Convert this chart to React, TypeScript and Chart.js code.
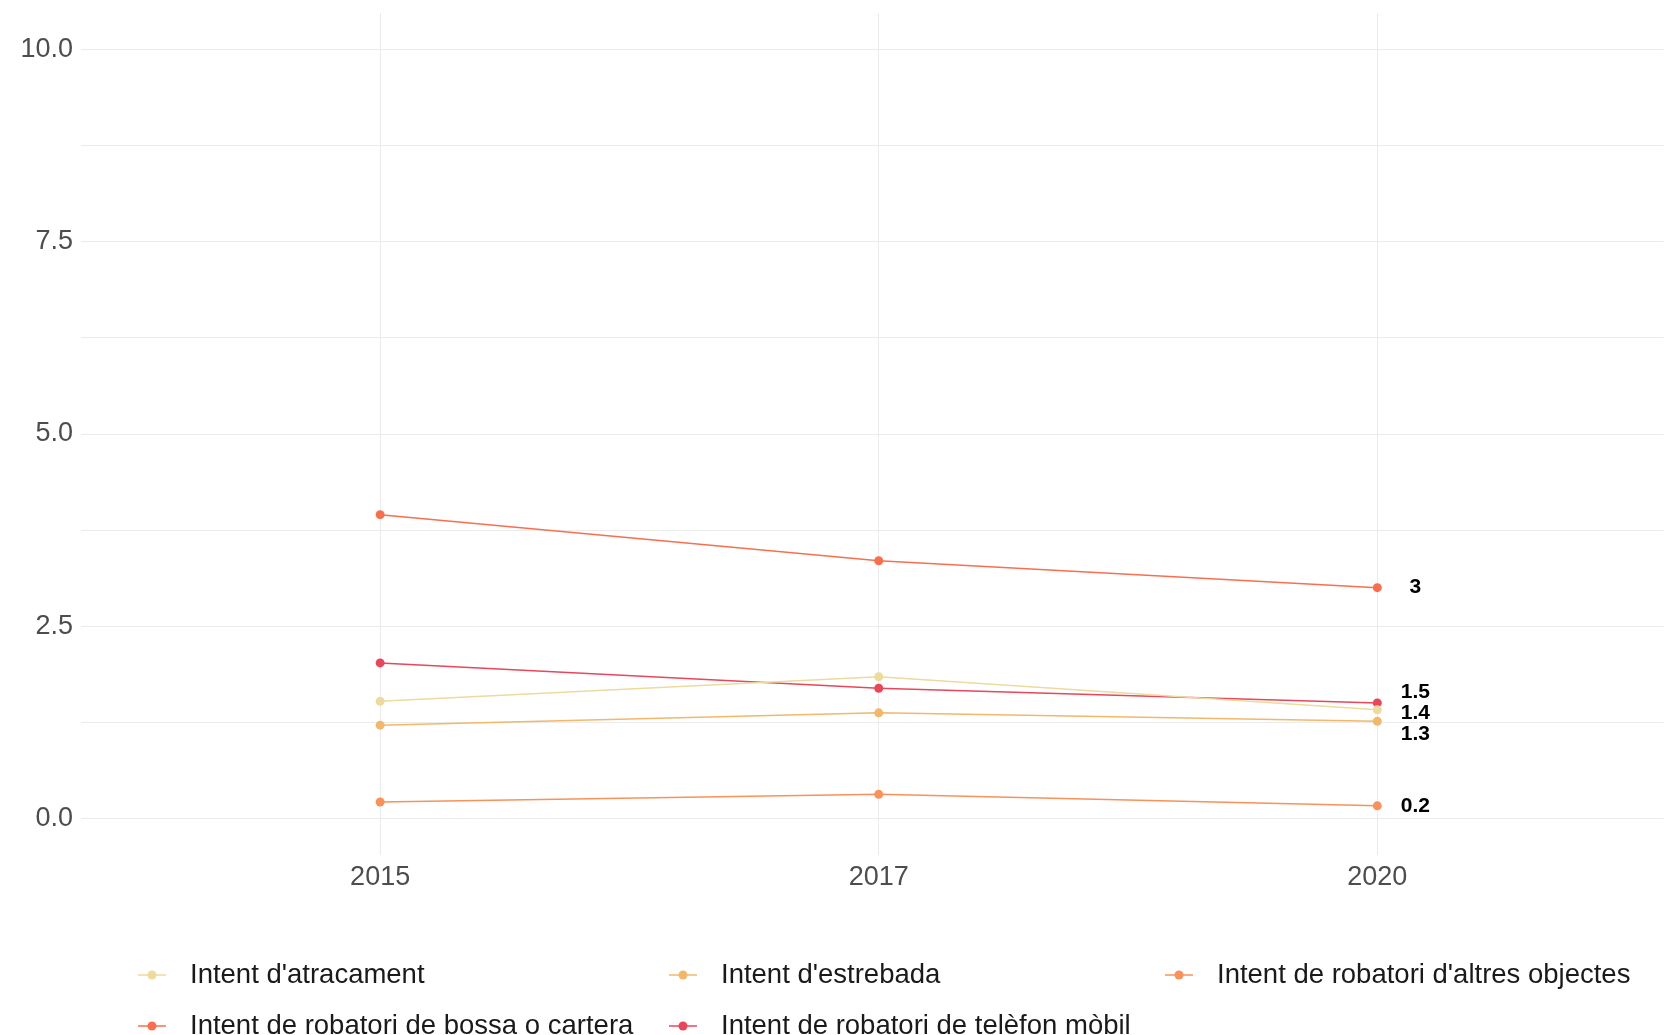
import React, { useEffect, useRef } from "react";
import { Chart, registerables } from "chart.js";

Chart.register(...registerables);

const categories = ["2015", "2017", "2020"];
const seriesNames = [
  "Intent d'atracament",
  "Intent d'estrebada",
  "Intent de robatori d'altres objectes",
  "Intent de robatori de bossa o cartera",
  "Intent de robatori de telèfon mòbil",
];
const atracament = [1.52, 1.84, 1.41];
const estrebada = [1.21, 1.37, 1.26];
const altresObjectes = [0.21, 0.31, 0.16];
const bossaCartera = [3.95, 3.35, 3.0];
const telefonMobil = [2.02, 1.69, 1.5];
const endLabels = ["1.4", "1.3", "0.2", "3", "1.5"];
const yGridValues = [0, 1.25, 2.5, 3.75, 5, 6.25, 7.5, 8.75, 10];
const yLabelValues = [0, 2.5, 5, 7.5, 10];

const seriesValues = [atracament, estrebada, altresObjectes, bossaCartera, telefonMobil];
const colors = ["#EDDA9E", "#F3B76C", "#F8925A", "#F86F4F", "#E7475B"];
const labelNudge = [3, 13, 0, 0, -11];

const FONT = "'Liberation Sans', Arial, sans-serif";

const endLabelPlugin = {
  id: "endLabels",
  afterDatasetsDraw(chart: any) {
    const ctx = chart.ctx;
    const xs = chart.scales.x;
    const ys = chart.scales.y;
    ctx.save();
    ctx.font = `bold 21px ${FONT}`;
    ctx.fillStyle = "#000000";
    ctx.textAlign = "center";
    ctx.textBaseline = "middle";
    seriesValues.forEach((vals, i) => {
      const last = vals.length - 1;
      const x = xs.getPixelForValue(last) + 38;
      const y = ys.getPixelForValue(vals[last]) + labelNudge[i];
      ctx.fillText(endLabels[i], x, y);
    });
    ctx.restore();
  },
};

const legendPlugin = {
  id: "gridLegend",
  afterDraw(chart: any) {
    const ctx = chart.ctx;
    ctx.save();
    ctx.font = `27.5px ${FONT}`;
    const nCols = 3;
    const colKeyX = [152, 683, 1179];
    const textOffset = 38;
    const rowY = [975, 1026];
    seriesNames.forEach((name, i) => {
      const col = i % nCols;
      const row = Math.floor(i / nCols);
      const x = colKeyX[col];
      const y = rowY[row];
      ctx.strokeStyle = colors[i];
      ctx.lineWidth = 1.5;
      ctx.beginPath();
      ctx.moveTo(x - 14, y);
      ctx.lineTo(x + 14, y);
      ctx.stroke();
      ctx.fillStyle = colors[i];
      ctx.beginPath();
      ctx.arc(x, y, 4.5, 0, Math.PI * 2);
      ctx.fill();
      ctx.fillStyle = "#1a1a1a";
      ctx.textAlign = "left";
      ctx.textBaseline = "middle";
      ctx.fillText(name, x + textOffset, y);
    });
    ctx.restore();
  },
};

export default function App() {
  const canvasRef = useRef<HTMLCanvasElement | null>(null);

  useEffect(() => {
    if (!canvasRef.current) return;
    const datasets = seriesNames.map((name, i) => ({
      label: name,
      data: seriesValues[i].map((v, j) => ({ x: j, y: v })),
      borderColor: colors[i],
      backgroundColor: colors[i],
      pointBackgroundColor: colors[i],
      pointBorderWidth: 0,
      pointRadius: 4.5,
      borderWidth: 1.5,
      tension: 0,
      fill: false,
    }));
    const chart = new Chart(canvasRef.current, {
      type: "line",
      data: { datasets },
      options: {
        animation: false,
        responsive: false,
        devicePixelRatio: 1,
        layout: { padding: { top: 13, left: 0, right: 0, bottom: 0 } },
        plugins: { legend: { display: false }, tooltip: { enabled: false } },
        scales: {
          x: {
            type: "linear",
            min: -0.6,
            max: 2.574,
            afterBuildTicks: (s: any) => {
              s.ticks = categories.map((_, i) => ({ value: i }));
            },
            afterFit: (s: any) => {
              s.height = 180;
              s.paddingLeft = 0;
              s.paddingRight = 0;
            },
            grid: { color: "#EBEBEB", lineWidth: 1, drawTicks: false },
            border: { display: false },
            ticks: {
              autoSkip: false,
              maxRotation: 0,
              padding: 6,
              color: "#4D4D4D",
              font: { family: FONT, size: 27 },
              callback: (v: any) => categories[v] ?? "",
            },
          },
          y: {
            type: "linear",
            min: -0.48,
            max: 10.48,
            afterBuildTicks: (s: any) => {
              s.ticks = yGridValues.map((v) => ({ value: v }));
            },
            afterFit: (s: any) => {
              s.width = 81;
              s.paddingTop = 0;
              s.paddingBottom = 0;
            },
            grid: { color: "#EBEBEB", lineWidth: 1, drawTicks: false },
            border: { display: false },
            ticks: {
              autoSkip: false,
              padding: 8,
              color: "#4D4D4D",
              font: { family: FONT, size: 27 },
              callback: (v: any) => (yLabelValues.includes(v) ? Number(v).toFixed(1) : ""),
            },
          },
        },
      },
      plugins: [endLabelPlugin, legendPlugin],
    } as any);
    return () => chart.destroy();
  }, []);

  return (
    <div style={{ position: "fixed", left: 0, top: 0, width: 1668, height: 1035, background: "#ffffff" }}>
      <canvas ref={canvasRef} width={1668} height={1035} style={{ display: "block" }} />
    </div>
  );
}
